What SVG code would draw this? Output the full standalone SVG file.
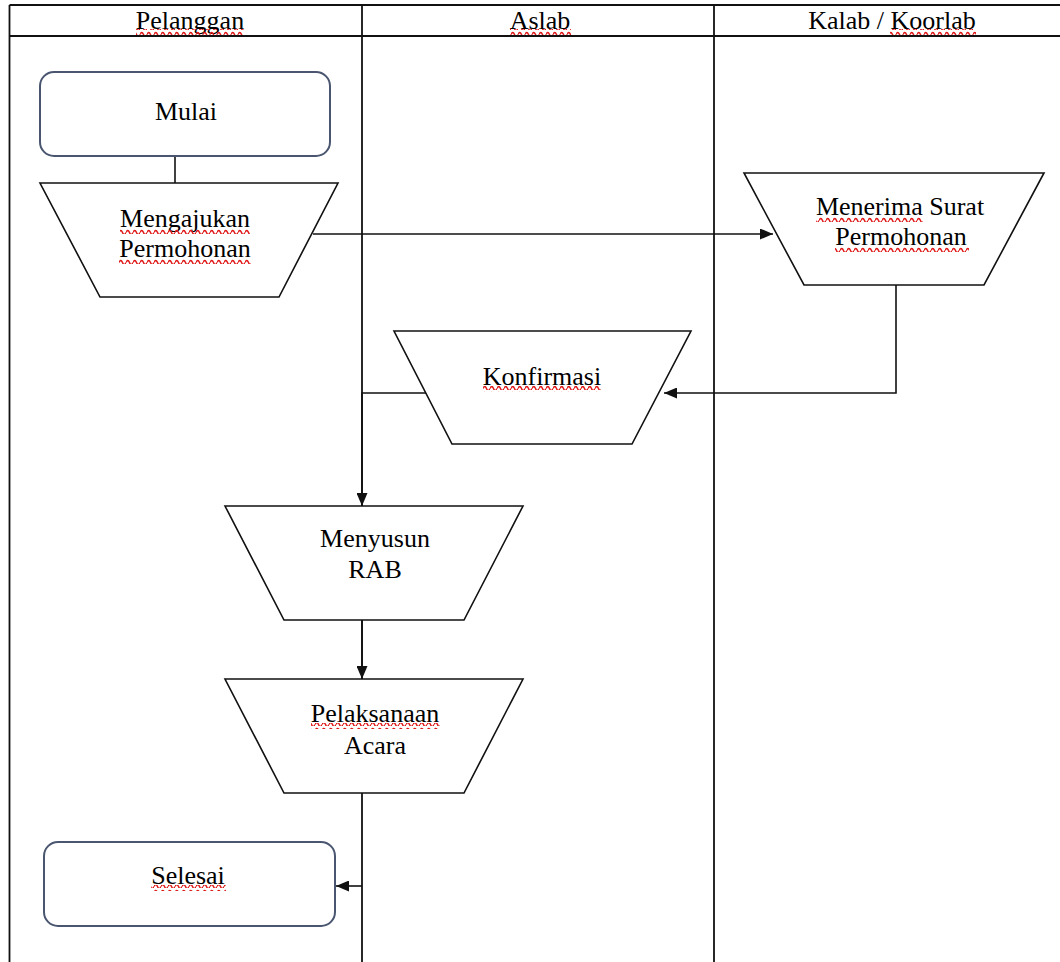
<svg xmlns="http://www.w3.org/2000/svg" width="1060" height="962" viewBox="0 0 1060 962">
  <style>
    .lane { stroke: #111; stroke-width: 1.8; fill: none; }
    .shape { fill: #fff; stroke: #111; stroke-width: 1.6; }
    .term { fill: #fff; stroke: #4a5670; stroke-width: 2; }
    .wire { stroke: #111; stroke-width: 1.6; fill: none; }
    .lbl { font-family: "Liberation Serif", "Times New Roman", serif; font-size: 26px; fill: #000; text-anchor: middle; }
    .sq { fill: url(#squig); }
  </style>
  <defs>
    <marker id="arrow" viewBox="0 0 13 11" refX="13" refY="5.5" markerWidth="13" markerHeight="11" markerUnits="userSpaceOnUse" orient="auto">
      <path d="M0 0 L13 5.5 L0 11 Z" fill="#111"/>
    </marker>
    <pattern id="squig" patternUnits="userSpaceOnUse" width="7" height="6">
      <path d="M0 4.5 Q1.75 0.5 3.5 4.5 T7 4.5" fill="none" stroke="#e01818" stroke-width="1.5"/>
    </pattern>
  </defs>

  <rect width="1060" height="962" fill="#fff"/>

  <!-- swimlane frame -->
  <g id="lanes">
    <line class="lane" x1="9.5" y1="5" x2="1060" y2="5"/>
    <line class="lane" x1="9.5" y1="36" x2="1060" y2="36"/>
    <line class="lane" x1="9.5" y1="5" x2="9.5" y2="962"/>
    <line class="lane" x1="362" y1="5" x2="362" y2="962"/>
    <line class="lane" x1="714" y1="5" x2="714" y2="962"/>
    <text class="lbl" x="190" y="29">Pelanggan</text>
    <text class="lbl" x="540" y="29">Aslab</text>
    <text class="lbl" x="892" y="29">Kalab / Koorlab</text>
    <rect class="sq" x="136" y="29" width="108" height="6"/>
    <rect class="sq" x="510" y="29" width="61" height="6"/>
    <rect class="sq" x="890" y="29" width="86" height="6"/>
  </g>

  <!-- connectors -->
  <g id="connectors">
    <line class="wire" x1="175" y1="156" x2="175" y2="183"/>
    <line class="wire" x1="313" y1="234" x2="773" y2="234" marker-end="url(#arrow)"/>
    <polyline class="wire" points="896,285 896,393 664,393" marker-end="url(#arrow)"/>
    <polyline class="wire" points="430,393 362,393 362,506" marker-end="url(#arrow)"/>
    <line class="wire" x1="362" y1="620" x2="362" y2="679" marker-end="url(#arrow)"/>
    <line class="wire" x1="362" y1="886" x2="336" y2="886" marker-end="url(#arrow)"/>
  </g>

  <g id="mulai">
    <rect class="term" x="40" y="72" width="290" height="84" rx="14"/>
    <text class="lbl" x="186" y="120">Mulai</text>
  </g>

  <g id="mengajukan">
    <polygon class="shape" points="40,183 338,183 279,297 100,297"/>
    <text class="lbl" x="185" y="227">Mengajukan</text>
    <text class="lbl" x="185" y="257">Permohonan</text>
    <rect class="sq" x="120" y="228" width="130" height="6"/>
    <rect class="sq" x="119" y="258" width="132" height="6"/>
  </g>

  <g id="menerima">
    <polygon class="shape" points="744,173 1044,173 984,285 804,285"/>
    <text class="lbl" x="900" y="215">Menerima Surat</text>
    <text class="lbl" x="901" y="245">Permohonan</text>
    <rect class="sq" x="816" y="216" width="107" height="6"/>
    <rect class="sq" x="835" y="246" width="134" height="6"/>
  </g>

  <g id="konfirmasi">
    <polygon class="shape" points="394,331 691,331 632,444 452,444"/>
    <text class="lbl" x="542" y="385">Konfirmasi</text>
    <rect class="sq" x="483" y="386" width="118" height="6"/>
  </g>

  <g id="menyusun">
    <polygon class="shape" points="225,506 523,506 464,620 284,620"/>
    <text class="lbl" x="375" y="547">Menyusun</text>
    <text class="lbl" x="375" y="578">RAB</text>
  </g>

  <g id="pelaksanaan">
    <polygon class="shape" points="225,679 523,679 464,793 284,793"/>
    <text class="lbl" x="375" y="722">Pelaksanaan</text>
    <text class="lbl" x="375" y="754">Acara</text>
    <rect class="sq" x="311" y="723" width="129" height="6"/>
  </g>

  <g id="selesai">
    <rect class="term" x="44" y="842" width="291" height="84" rx="14"/>
    <text class="lbl" x="188" y="884">Selesai</text>
    <rect class="sq" x="151" y="885" width="75" height="6"/>
  </g>
</svg>
